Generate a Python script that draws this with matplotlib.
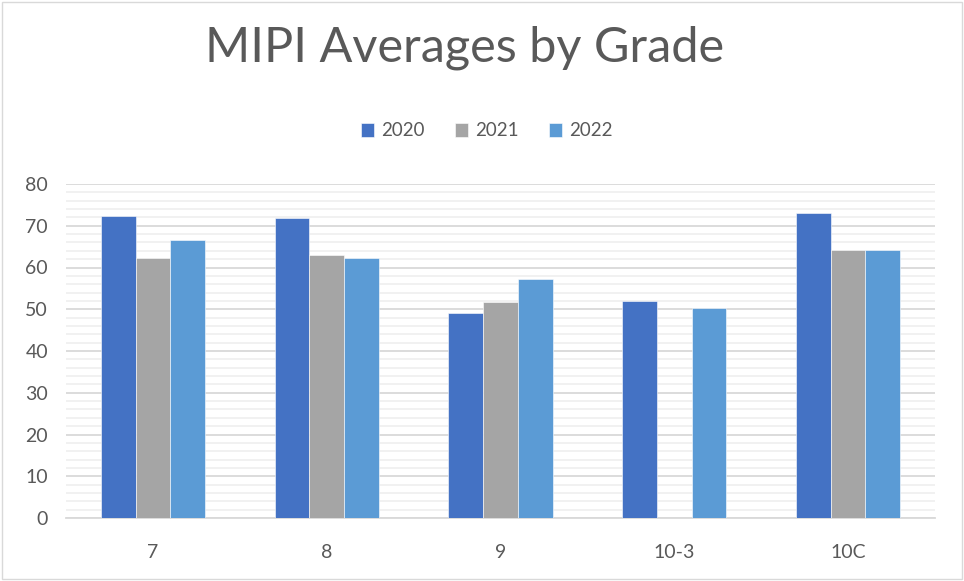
import matplotlib
matplotlib.use("Agg")
import matplotlib.pyplot as plt
import numpy as np
from matplotlib.patches import Rectangle
from matplotlib.ticker import MultipleLocator

# data
grades = ["7", "8", "9", "10-3", "10C"]
years = ["2020", "2021", "2022"]
vals_2020 = [72.4, 71.8, 49.2, 51.9, 73.1]
vals_2021 = [62.2, 63.0, 51.7, np.nan, 64.2]
vals_2022 = [66.6, 62.3, 57.2, 50.4, 64.2]
colors = ["#4472C4", "#A5A5A5", "#5B9BD5"]

plt.rcParams['font.family'] = ['Lato', 'DejaVu Sans']

fig = plt.figure(figsize=(9.64, 5.81), dpi=100)
ax = fig.add_axes([66 / 964, 1 - 518 / 581, (935 - 66) / 964, (518 - 184) / 581])

x = np.arange(len(grades))
w = 0.2
for i, (vals, yr) in enumerate(zip([vals_2020, vals_2021, vals_2022], years)):
    ax.bar(x + (i - 1) * w, vals, w, color=colors[i], label=yr, zorder=3,
           edgecolor="white", linewidth=0.4)

ax.set_xlim(-0.5, len(grades) - 0.5)
ax.set_ylim(0, 80)
ax.yaxis.set_major_locator(MultipleLocator(10))
ax.yaxis.set_minor_locator(MultipleLocator(2))
ax.grid(axis="y", which="major", color="#d9d9d9", linewidth=1.3, zorder=0)
ax.grid(axis="y", which="minor", color="#f0f0f0", linewidth=1.3, zorder=0)
ax.set_xticks(x)
ax.set_xticklabels(grades)
for s in ["top", "right", "left"]:
    ax.spines[s].set_visible(False)
ax.spines["bottom"].set_color("#d9d9d9")
ax.spines["bottom"].set_linewidth(1.3)
ax.tick_params(axis="both", which="both", length=0, labelsize=14, colors="#595959")
ax.tick_params(axis="x", pad=19)
ax.tick_params(axis="y", pad=13)

fig.text(0.482, 1 - 62 / 581, "MIPI Averages by Grade", ha="center", va="baseline",
         fontsize=35, color="#595959")

leg = fig.legend(loc="center", bbox_to_anchor=(0.505, 1 - 131 / 581), ncol=3,
                 frameon=False, fontsize=13.5, handlelength=0.7, handleheight=0.7,
                 handletextpad=0.4, columnspacing=1.6)
for t in leg.get_texts():
    t.set_color("#595959")

fig.patches.append(Rectangle((0.002, 0.003), 0.996, 0.994, transform=fig.transFigure,
                             fill=False, edgecolor="#d9d9d9", linewidth=1))

fig.savefig("out.png", dpi=100)
